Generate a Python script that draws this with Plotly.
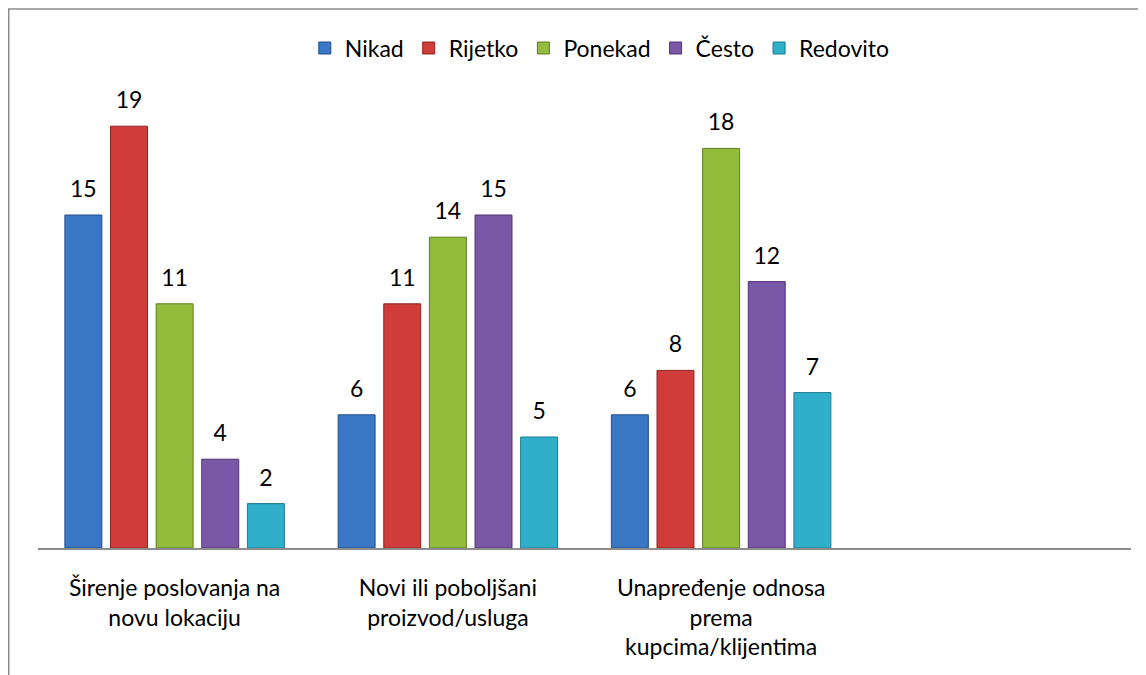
import plotly.graph_objects as go

categories = ["Širenje poslovanja na<br>novu lokaciju",
              "Novi ili poboljšani<br>proizvod/usluga",
              "Unapređenje odnosa<br>prema<br>kupcima/klijentima"]
series_names = ["Nikad", "Rijetko", "Ponekad", "Često", "Redovito"]
nikad = [15, 6, 6]
rijetko = [19, 11, 8]
ponekad = [11, 14, 18]
cesto = [4, 15, 12]
redovito = [2, 5, 7]
values = [nikad, rijetko, ponekad, cesto, redovito]

colors = ["#3A77C4", "#CF3C3A", "#93BC3C", "#7B57A8", "#30AFCB"]
edges = ["#214E8A", "#8E2422", "#5F7D24", "#4E3473", "#1D7A90"]

font_family = "Lato, 'Open Sans', sans-serif"
FS = 23

fig = go.Figure()
for name, vals, c, e in zip(series_names, values, colors, edges):
    fig.add_trace(go.Bar(
        name=name, x=categories, y=vals, offsetgroup=name,
        marker=dict(color=c, line=dict(color=e, width=1)),
    ))
for name, vals in zip(series_names, values):
    fig.add_trace(go.Scatter(
        x=categories, y=vals, offsetgroup=name, mode="markers+text",
        marker=dict(size=18, opacity=0), text=[str(v) for v in vals],
        textposition="top center", textfont=dict(size=FS, color="#000000", family=font_family),
        showlegend=False, hoverinfo="skip", cliponaxis=False,
    ))

fig.update_layout(
    width=1138, height=667,
    margin=dict(l=30, r=15, t=96, b=127),
    paper_bgcolor="white", plot_bgcolor="white",
    barmode="group", bargap=0.165, bargroupgap=0.19,
    scattermode="group", scattergap=0.165,
    font=dict(family=font_family, size=FS, color="#000000"),
    showlegend=True,
    legend=dict(orientation="h", x=0.514, xanchor="center", y=1.126, yanchor="middle",
                font=dict(size=FS, family=font_family), itemwidth=30,
                bgcolor="rgba(0,0,0,0)"),
    xaxis=dict(type="category", range=[-0.5, 3.5], showline=True, linecolor="#8C8C8C",
               linewidth=2, showgrid=False, ticks="", ticklabelstandoff=18,
               tickfont=dict(size=FS, family=font_family), fixedrange=True),
    yaxis=dict(range=[0, 20], visible=False, showgrid=False, zeroline=False),
    shapes=[dict(type="rect", xref="paper", yref="paper",
                 x0=(0.75 - 30) / 1093, x1=1.2, y0=-0.5, y1=(540 - 1) / 444,
                 line=dict(color="#8C8C8C", width=1.5), layer="below")],
)

fig.write_html("out.html")
